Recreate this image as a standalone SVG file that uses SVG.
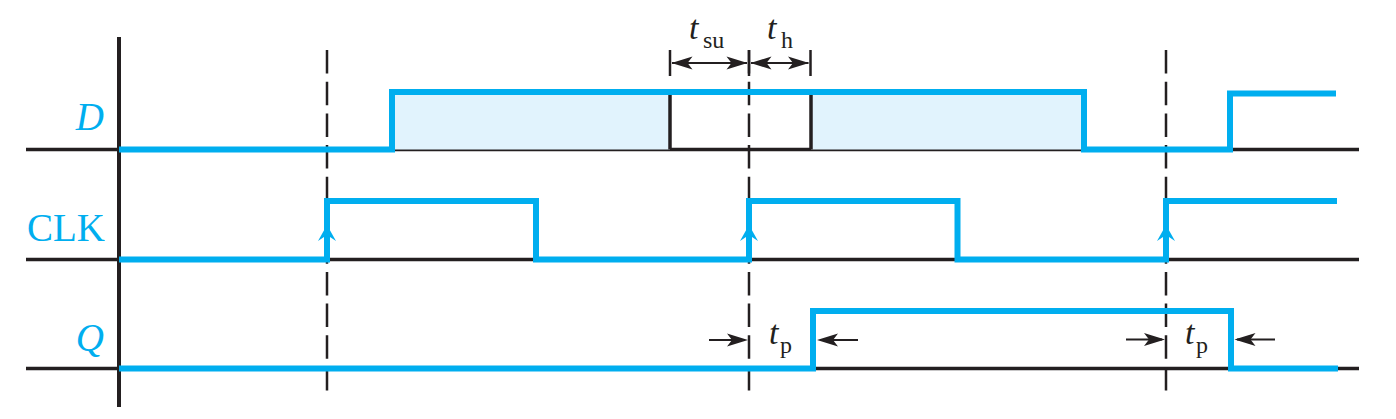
<svg xmlns="http://www.w3.org/2000/svg" xmlns:xlink="http://www.w3.org/1999/xlink" width="1396" height="419" viewBox="0 0 1396 419">
<style>
.base{stroke:#231f20;stroke-width:3.5;fill:none}
.axis{stroke:#231f20;stroke-width:4;fill:none}
.dash{stroke:#231f20;stroke-width:2.5;fill:none;stroke-dasharray:23.5 8.2}
.tick{stroke:#231f20;stroke-width:2.5;fill:none}
.sig{stroke:#00aeef;stroke-width:6;fill:none;stroke-linejoin:miter;stroke-linecap:butt}
.shade{fill:#e1f3fd;stroke:none}
.dim{stroke:#231f20;stroke-width:2;fill:none}
.ahb{fill:#231f20}
.ahc{fill:#00aeef}
.lbl{font-family:"Liberation Serif","Times New Roman",serif;font-size:39px;fill:#00aeef}
.it{font-style:italic}
.tm{font-family:"Liberation Serif","Times New Roman",serif;font-size:34px;fill:#231f20}
.sub{font-size:24px;font-style:normal}
</style>
<defs>
<path id="ah" d="M0,0 L-21,-6.5 L-16,0 L-21,6.5 Z"/>
<path id="ahup" d="M0,0 L9,16 L0,10 L-9,16 Z"/>
</defs>

<g id="axes">
<line class="base" x1="26" y1="149.5" x2="1359" y2="149.5"/>
<line class="base" x1="26" y1="259.5" x2="1359" y2="259.5"/>
<line class="base" x1="26" y1="368.5" x2="1359" y2="368.5"/>
<line class="axis" x1="119" y1="37" x2="119" y2="407"/>
</g>

<g id="shading">
<rect class="shade" x="392" y="92" width="278" height="57.5"/>
<rect class="shade" x="811" y="92" width="273" height="57.5"/>
<line class="base" x1="670" y1="92" x2="670" y2="149.5"/>
<line class="base" x1="811" y1="92" x2="811" y2="149.5"/>
</g>

<g id="gridlines">
<line class="dash" x1="327" y1="50" x2="327" y2="393"/>
<line class="dash" x1="749" y1="50" x2="749" y2="393"/>
<line class="dash" x1="1166" y1="50" x2="1166" y2="393"/>
</g>

<g id="signal-D">
<text class="lbl it" x="104" y="130" text-anchor="end">D</text>
<polyline class="sig" points="119,149.5 392,149.5 392,92 1084,92 1084,149.5 1230,149.5 1230,93.5 1336,93.5"/>
</g>

<g id="signal-CLK">
<text class="lbl" x="105" y="241" text-anchor="end">CLK</text>
<polyline class="sig" points="119,259.5 327,259.5 327,201 536,201 536,259.5 749,259.5 749,201 957.5,201 957.5,259.5 1166,259.5 1166,201 1337,201"/>
<use xlink:href="#ahup" class="ahc" x="327" y="225"/>
<use xlink:href="#ahup" class="ahc" x="749" y="225"/>
<use xlink:href="#ahup" class="ahc" x="1166" y="225"/>
</g>

<g id="signal-Q">
<text class="lbl it" x="104" y="351" text-anchor="end">Q</text>
<polyline class="sig" points="119,368.5 813,368.5 813,311 1231,311 1231,368.5 1338,368.5"/>
</g>

<g id="connectors">
<line class="tick" x1="670" y1="50" x2="670" y2="76"/>
<line class="tick" x1="749" y1="50" x2="749" y2="76"/>
<line class="tick" x1="810.5" y1="50" x2="810.5" y2="76"/>
<line class="dim" x1="672" y1="63" x2="747" y2="63"/>
<line class="dim" x1="751" y1="63" x2="808.5" y2="63"/>
<use xlink:href="#ah" class="ahb" transform="translate(671.5,63) rotate(180)"/>
<use xlink:href="#ah" class="ahb" transform="translate(747.5,63)"/>
<use xlink:href="#ah" class="ahb" transform="translate(750.5,63) rotate(180)"/>
<use xlink:href="#ah" class="ahb" transform="translate(809,63)"/>
<line class="dim" x1="709" y1="340" x2="745" y2="340"/>
<use xlink:href="#ah" class="ahb" transform="translate(748,340)"/>
<line class="dim" x1="858" y1="340" x2="820" y2="340"/>
<use xlink:href="#ah" class="ahb" transform="translate(817,340) rotate(180)"/>
<line class="dim" x1="1126" y1="339.5" x2="1162" y2="339.5"/>
<use xlink:href="#ah" class="ahb" transform="translate(1165,339.5)"/>
<line class="dim" x1="1275" y1="339.5" x2="1237" y2="339.5"/>
<use xlink:href="#ah" class="ahb" transform="translate(1234.5,339.5) rotate(180)"/>
</g>

<g id="labels">
<text class="tm"><tspan class="it" x="689" y="39">t</tspan><tspan class="sub" x="703" y="48">su</tspan></text>
<text class="tm"><tspan class="it" x="767" y="39">t</tspan><tspan class="sub" x="781" y="48">h</tspan></text>
<text class="tm"><tspan class="it" x="769" y="344">t</tspan><tspan class="sub" x="780" y="353">p</tspan></text>
<text class="tm"><tspan class="it" x="1185" y="344">t</tspan><tspan class="sub" x="1196" y="353">p</tspan></text>
</g>
</svg>
